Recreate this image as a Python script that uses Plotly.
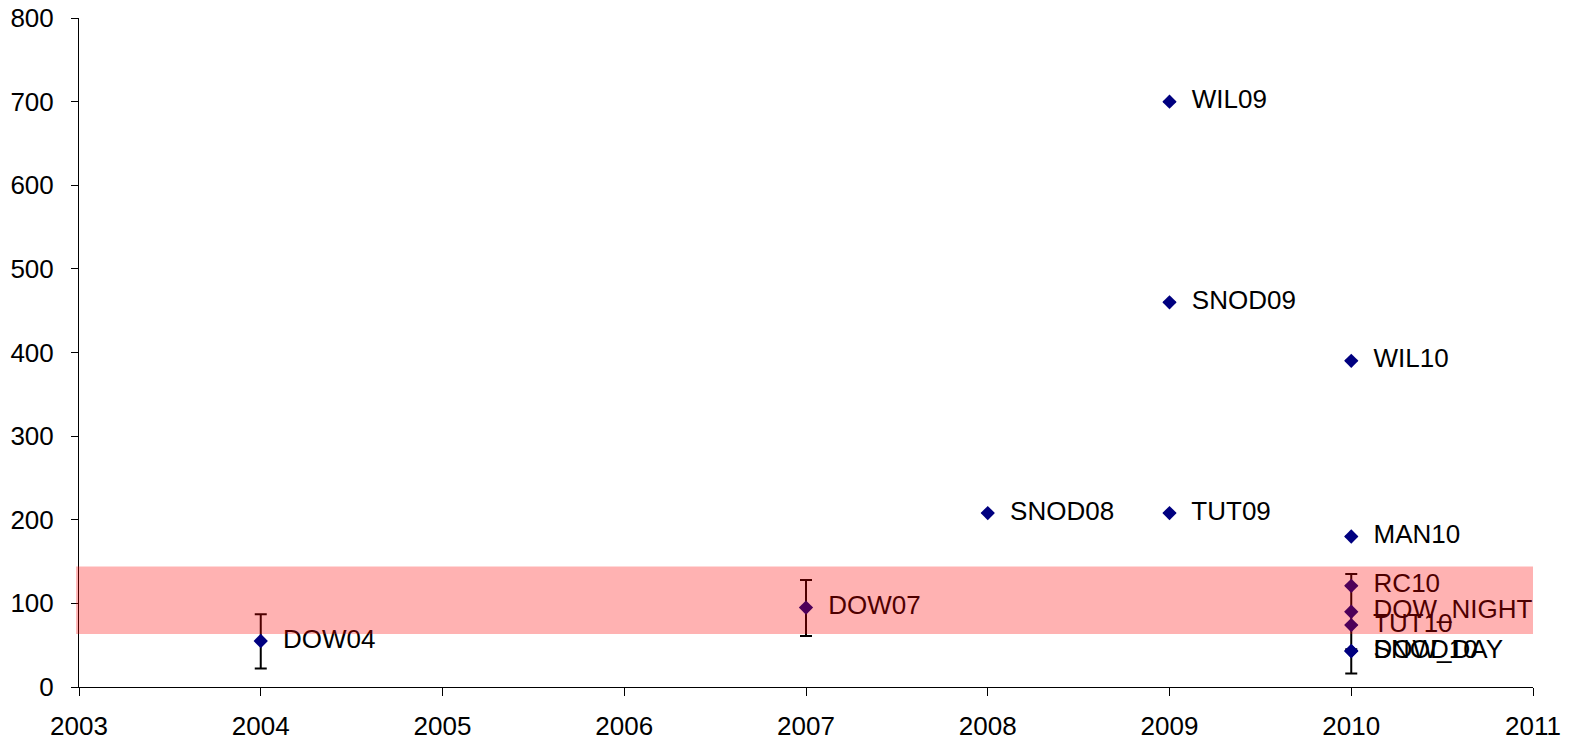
import plotly.graph_objects as go

# Data
labels = ["DOW04", "DOW07", "SNOD08", "WIL09", "SNOD09", "TUT09", "WIL10",
          "MAN10", "RC10", "DOW_NIGHT", "TUT10", "DOW_DAY", "SNOD10"]
years = [2004, 2007, 2008, 2009, 2009, 2009, 2010, 2010, 2010, 2010, 2010, 2010, 2010]
values = [55, 95, 208, 700, 460, 208, 390, 180, 121, 90, 74, 43, 43]
err_plus = [32, 33, 0, 0, 0, 0, 0, 0, 0, 45, 0, 0, 0]
err_minus = [33, 34, 0, 0, 0, 0, 0, 0, 0, 45, 0, 27, 0]

band_low = 63.5
band_high = 144

x_ticks = [2003, 2004, 2005, 2006, 2007, 2008, 2009, 2010, 2011]
y_ticks = [0, 100, 200, 300, 400, 500, 600, 700, 800]

FONT = "Liberation Sans, Arial, sans-serif"
FS = 26

fig = go.Figure()
fig.add_trace(go.Scatter(
    x=years, y=values,
    mode="markers+text",
    text=["  " + l for l in labels],
    textposition="middle right",
    textfont=dict(family=FONT, size=FS, color="black"),
    marker=dict(symbol="diamond", size=11, color="#000080"),
    error_y=dict(type="data", symmetric=False, array=err_plus, arrayminus=err_minus,
                 color="black", thickness=2, width=6),
    cliponaxis=False,
    showlegend=False,
))

fig.add_shape(type="rect", xref="paper", yref="y",
              x0=-0.002, x1=1.0, y0=band_low, y1=band_high,
              fillcolor="rgba(255,0,0,0.3)", line=dict(width=0), layer="above")

fig.update_layout(
    width=1574, height=740,
    margin=dict(l=79, r=41, t=18, b=53, autoexpand=False),
    paper_bgcolor="white", plot_bgcolor="white",
    font=dict(family=FONT, size=FS, color="black"),
)
fig.update_xaxes(range=[2003, 2011], tickvals=x_ticks, ticktext=[str(t) for t in x_ticks],
                 showgrid=False, zeroline=False, showline=True, linecolor="black", linewidth=1,
                 ticks="outside", ticklen=8, tickcolor="black", automargin=False,
                 ticklabelstandoff=8,
                 tickfont=dict(family=FONT, size=FS, color="black"))
fig.update_yaxes(range=[0, 800], tickvals=y_ticks,
                 showgrid=False, zeroline=False, showline=True, linecolor="black", linewidth=1,
                 ticks="outside", ticklen=7, tickcolor="black", automargin=False,
                 ticklabelstandoff=12,
                 tickfont=dict(family=FONT, size=FS, color="black"))

fig.write_html("out.html", config={"displayModeBar": False},
               post_script="document.body.style.margin='0';document.body.style.overflow='hidden';")
